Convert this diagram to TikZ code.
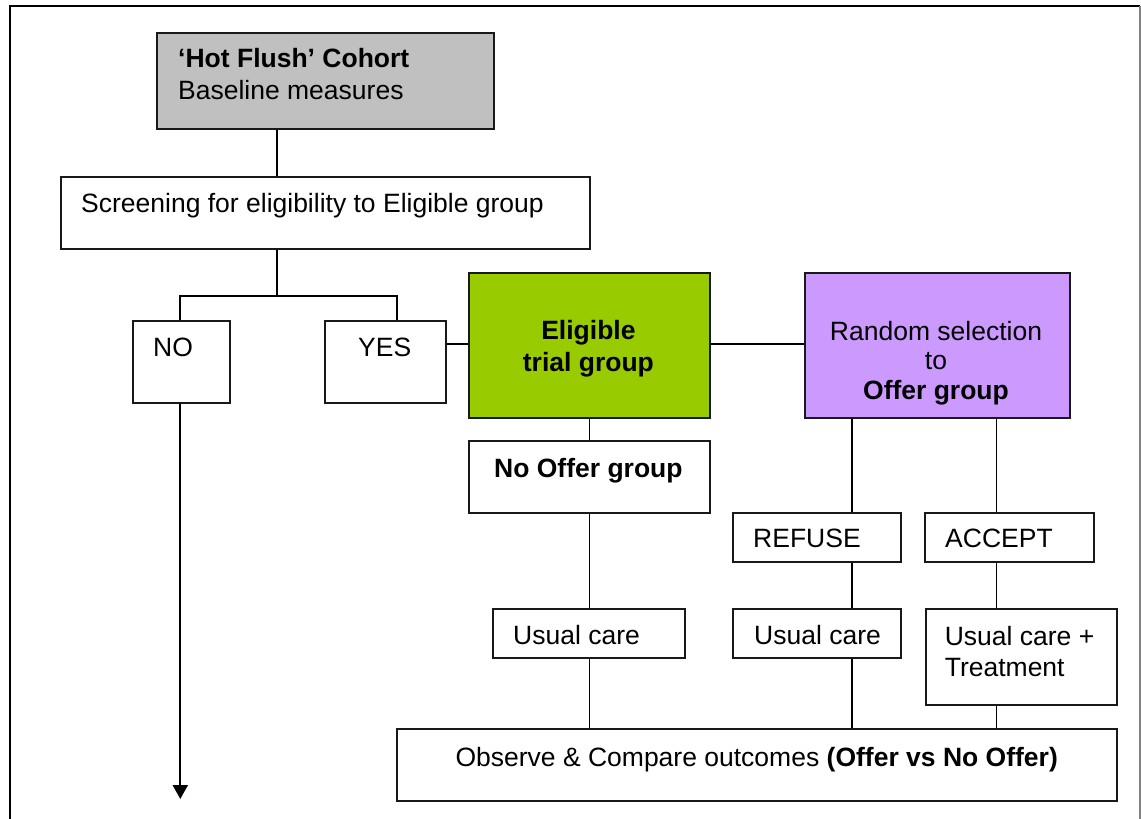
\documentclass[tikz,border=0pt]{standalone}
\usepackage{fontspec}
\setmainfont{Liberation Sans}
\usetikzlibrary{arrows.meta}
\definecolor{boxgray}{HTML}{C0C0C0}
\definecolor{boxgreen}{HTML}{99CC00}
\definecolor{boxpurple}{HTML}{CC99FF}
\tikzset{
  box/.style={draw=black!90, line width=2pt, rectangle, inner sep=0pt, anchor=north west},
  txt/.style={inner sep=0pt, font=\fontsize{26.5}{30.5}\selectfont},
  thickline/.style={line width=2pt},
  thinline/.style={line width=1.1pt},
}
\begin{document}
\begin{tikzpicture}[x=1pt,y=-1pt]
\useasboundingbox (0,0) rectangle (1141,819);
% frame
\draw[line width=2.8pt] (10,819) -- (10,6) -- (1140,6);
\draw[gray, line width=1.5pt] (1140,6) -- (1140,819);
% boxes
\node[box, fill=boxgray, minimum width=336.7pt, minimum height=96pt] (hot) at (155.8,32) {};
\node[box, minimum width=528.9pt, minimum height=72.3pt] (screen) at (59.7,176) {};
\node[box, minimum width=96.5pt, minimum height=81.7pt] (no) at (132,320) {};
\node[box, minimum width=120.7pt, minimum height=81.7pt] (yes) at (324,320) {};
\node[box, fill=boxgreen, minimum width=241pt, minimum height=144.4pt] (elig) at (467.7,272.3) {};
\node[box, fill=boxpurple, minimum width=264.7pt, minimum height=144.4pt] (rand) at (804.3,272.3) {};
\node[box, minimum width=241pt, minimum height=72.3pt] (nooff) at (467.7,440) {};
\node[box, minimum width=168.4pt, minimum height=49pt] (refuse) at (732,511.7) {};
\node[box, minimum width=168.6pt, minimum height=49pt] (accept) at (924,511.7) {};
\node[box, minimum width=192.5pt, minimum height=48.4pt] (uca) at (491.8,608.3) {};
\node[box, minimum width=168pt, minimum height=48.4pt] (ucb) at (732,608.3) {};
\node[box, minimum width=191.3pt, minimum height=96pt] (ucc) at (924.7,608.3) {};
\node[box, minimum width=720.5pt, minimum height=71.7pt] (obs) at (395.5,728.3) {};
% texts
\node[txt, anchor=base west] (hott1) at (178,67.5) {\textbf{‘Hot Flush’ Cohort}};
\node[txt, anchor=base west] (hott2) at (178,99.5) {Baseline measures};
\node[txt, anchor=base west] (screent) at (81,212.5) {Screening for eligibility to Eligible group};
\node[txt, anchor=base west] (not) at (153,356.5) {NO};
\node[txt, anchor=base west] (yest) at (358,356.5) {YES};
\node[txt, anchor=base] (eligt1) at (588.4,339.5) {\textbf{Eligible}};
\node[txt, anchor=base] (eligt2) at (588.4,371) {\textbf{trial group}};
\node[txt, anchor=base] (randt1) at (936,340) {Random selection};
\node[txt, anchor=base] (randt2) at (936,369.5) {to};
\node[txt, anchor=base] (randt3) at (936,399.5) {\textbf{Offer group}};
\node[txt, anchor=base] (noofft) at (588.4,477.5) {\textbf{No Offer group}};
\node[txt, anchor=base west] (refuset) at (753,547.5) {REFUSE};
\node[txt, anchor=base west] (acceptt) at (945,547.5) {ACCEPT};
\node[txt, anchor=base west] (ucat) at (513,644.5) {Usual care};
\node[txt, anchor=base west] (ucbt) at (754,644.5) {Usual care};
\node[txt, anchor=base west] (ucct1) at (944.6,645.5) {Usual care +};
\node[txt, anchor=base west] (ucct2) at (944.6,676) {Treatment};
\node[txt, anchor=base] (obst) at (756.7,766) {Observe \& Compare outcomes \textbf{(Offer vs No Offer)}};
% connectors
\coordinate (split) at (276.7,296);
\coordinate (arrowend) at (180.3,799);
\draw[thickline] (276.7,0 |- hot.south) -- (276.7,0 |- screen.north);
\draw[thickline] (276.7,0 |- screen.south) -- (split);
\draw[thickline] (180.3,0 |- no.north) |- (split) -| (396.5,0 |- yes.north);
\draw[thickline] (yes.east |- 0,344) -- (elig.west |- 0,344);
\draw[thickline] (elig.east |- 0,344) -- (rand.west |- 0,344);
\draw[line width=2.2pt, -{Triangle[width=15pt,length=14pt]}] (180.3,0 |- no.south) -- (arrowend);
\draw[thinline] (elig.south) -- (nooff.north);
\draw[thinline] (589.4,0 |- nooff.south) -- (589.4,0 |- uca.north);
\draw[thinline] (589.4,0 |- uca.south) -- (589.4,0 |- obs.north);
\draw[thinline] (852,0 |- rand.south) -- (852,0 |- refuse.north);
\draw[thinline] (852,0 |- refuse.south) -- (852,0 |- ucb.north);
\draw[thinline] (852,0 |- ucb.south) -- (852,0 |- obs.north);
\draw[thinline] (996.5,0 |- rand.south) -- (996.5,0 |- accept.north);
\draw[thinline] (996.5,0 |- accept.south) -- (996.5,0 |- ucc.north);
\draw[thinline] (996.5,0 |- ucc.south) -- (996.5,0 |- obs.north);
\end{tikzpicture}
\end{document}
